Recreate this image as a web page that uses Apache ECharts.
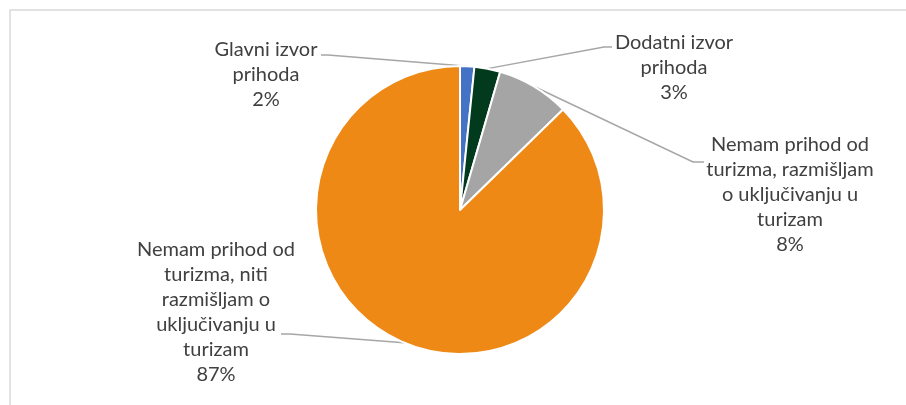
<!DOCTYPE html>
<html>
<head>
<meta charset="utf-8">
<script src="https://cdn.jsdelivr.net/npm/echarts@6/dist/echarts.min.js"></script>
<style>
html,body{margin:0;padding:0;background:#fff;}
#c{width:906px;height:405px;}
</style>
</head>
<body>
<div id="c"></div>
<script>
const categories = [
  'Glavni izvor\nprihoda',
  'Dodatni izvor\nprihoda',
  'Nemam prihod od\nturizma, razmišljam\no uključivanju u\nturizam',
  'Nemam prihod od\nturizma, niti\nrazmišljam o\nuključivanju u\nturizam'
];
const values = [1.6, 2.9, 8.2, 87.3];
const percentLabels = ['2%', '3%', '8%', '87%'];
const colors = ['#4472C4', '#023A1E', '#A5A5A5', '#EE8916'];

// label placement: text centre, leader bend point, leader end point
const labelPlaces = [
  {x: 266, y: 75,  bend: [328, 55], end: [321, 55]},
  {x: 674, y: 68,  bend: [604, 47], end: [612, 47]},
  {x: 790, y: 195, bend: [693, 162], end: [704, 162]},
  {x: 216, y: 312, bend: [290, 334], end: [281, 334]}
];

const chart = echarts.init(document.getElementById('c'));
chart.setOption({
  animation: false,
  graphic: [{
    type: 'rect',
    shape: {x: 10, y: 10, width: 920, height: 420},
    style: {fill: 'none', stroke: '#D9D9D9', lineWidth: 1.5},
    silent: true
  }],
  series: [{
    type: 'pie',
    center: [460, 210],
    radius: [0, 144],
    startAngle: 90,
    clockwise: true,
    avoidLabelOverlap: false,
    itemStyle: {borderColor: '#fff', borderWidth: 2},
    label: {
      show: true,
      position: 'outside',
      formatter: p => categories[p.dataIndex] + '\n' + percentLabels[p.dataIndex],
      fontFamily: 'Lato, "Open Sans", sans-serif',
      fontSize: 20,
      lineHeight: 25,
      color: '#404040',
      align: 'center'
    },
    labelLine: {show: true, lineStyle: {color: '#A6A6A6', width: 1.5}},
    labelLayout: function (params) {
      const lp = labelPlaces[params.dataIndex];
      const start = params.labelLinePoints ? params.labelLinePoints[0] : lp.bend;
      return {
        x: lp.x,
        y: lp.y,
        align: 'center',
        verticalAlign: 'middle',
        labelLinePoints: [start, lp.bend, lp.end]
      };
    },
    data: values.map((v, i) => ({name: categories[i], value: v, itemStyle: {color: colors[i]}}))
  }]
});
</script>
</body>
</html>
